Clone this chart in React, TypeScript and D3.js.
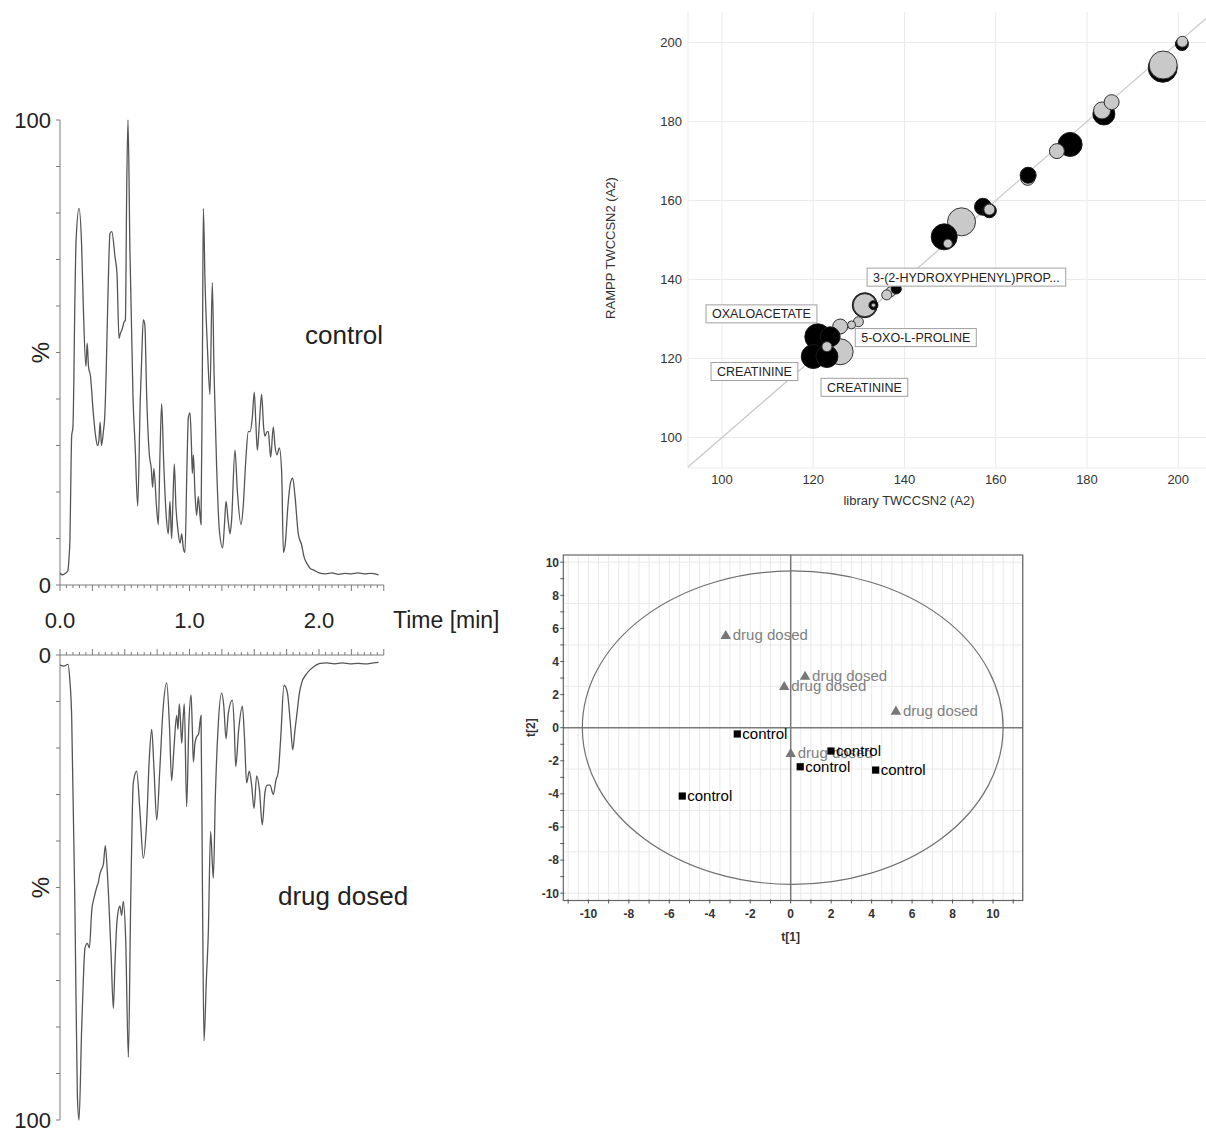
import { useEffect, useRef } from 'react';
import * as d3 from 'd3';

// chromatograms: [time (min), intensity (%)]
const controlTrace = [
  [0, 2.5], [0.02, 2.2], [0.045, 2.6], [0.06, 3], [0.07, 6], [0.077, 10], [0.085, 25], [0.09, 32], [0.1, 34],
  [0.116, 63], [0.124, 74], [0.147, 81], [0.167, 73], [0.18, 60], [0.2, 47], [0.21, 52], [0.22, 47], [0.235, 45],
  [0.257, 37], [0.275, 32], [0.29, 30], [0.3, 31], [0.31, 35], [0.32, 30], [0.335, 33], [0.345, 36], [0.355, 44],
  [0.37, 62], [0.386, 75.6], [0.4, 76], [0.425, 70.5], [0.44, 67], [0.456, 53], [0.465, 54], [0.48, 55], [0.494, 56.5],
  [0.505, 57], [0.515, 85], [0.525, 100], [0.54, 72], [0.564, 40], [0.58, 30], [0.6, 17], [0.62, 40], [0.63, 48],
  [0.643, 57], [0.655, 56], [0.67, 40], [0.69, 28], [0.705, 25], [0.715, 21], [0.725, 25], [0.745, 17], [0.759, 13],
  [0.772, 28], [0.785, 39], [0.8, 27], [0.82, 15], [0.836, 11], [0.849, 18], [0.862, 10], [0.872, 18], [0.883, 26],
  [0.895, 17], [0.91, 12], [0.927, 9], [0.94, 11], [0.952, 8], [0.965, 7], [0.98, 25], [0.991, 36], [1.004, 37],
  [1.015, 30], [1.022, 24], [1.03, 28], [1.042, 20], [1.055, 15], [1.068, 19], [1.078, 16], [1.089, 13], [1.1, 50],
  [1.107, 81], [1.12, 65], [1.14, 50], [1.158, 41], [1.176, 65], [1.19, 45], [1.21, 25], [1.23, 12], [1.256, 8],
  [1.27, 13], [1.282, 18], [1.298, 14], [1.313, 11], [1.325, 14], [1.351, 29], [1.37, 20], [1.398, 13], [1.415, 17],
  [1.435, 27], [1.454, 33], [1.468, 33], [1.485, 36], [1.5, 41.5], [1.512, 35], [1.524, 29], [1.54, 35], [1.557, 41],
  [1.572, 34], [1.583, 32], [1.6, 33], [1.609, 33], [1.618, 30], [1.627, 27.5], [1.647, 34], [1.66, 30], [1.675, 28],
  [1.694, 29.5], [1.712, 24], [1.725, 7], [1.74, 9], [1.76, 17], [1.78, 22], [1.797, 23], [1.815, 19], [1.84, 11],
  [1.866, 8.6], [1.885, 6], [1.91, 4.5], [1.935, 3.5], [1.96, 3.2], [2.0, 2.6], [2.05, 2.4], [2.1, 2.6], [2.15, 2.3],
  [2.2, 2.5], [2.25, 2.4], [2.3, 2.6], [2.35, 2.4], [2.4, 2.5], [2.46, 2.2],
];

const dosedTrace = [
  [0, 2.2], [0.03, 2.4], [0.062, 2], [0.075, 5], [0.09, 13], [0.116, 56], [0.134, 94.6], [0.147, 100], [0.167, 80.6],
  [0.18, 70], [0.193, 63], [0.211, 62], [0.227, 63], [0.245, 55], [0.265, 52], [0.283, 50], [0.295, 49], [0.309, 47],
  [0.322, 46], [0.335, 45], [0.35, 41], [0.368, 48], [0.394, 64], [0.412, 76], [0.425, 66], [0.438, 58], [0.45, 55],
  [0.463, 54], [0.476, 56], [0.489, 53], [0.507, 61], [0.528, 86.5], [0.545, 55], [0.566, 27.5], [0.592, 25],
  [0.618, 34], [0.643, 43.7], [0.669, 36], [0.69, 22], [0.708, 16], [0.725, 24], [0.747, 35.5], [0.77, 25],
  [0.795, 12], [0.824, 6], [0.845, 15], [0.862, 27], [0.88, 20], [0.901, 13], [0.911, 16], [0.921, 10.5], [0.93, 14],
  [0.94, 19], [0.95, 14], [0.96, 10.5], [0.978, 32.6], [0.995, 15], [1.012, 8.6], [1.022, 16], [1.03, 23], [1.042, 19],
  [1.055, 17.6], [1.07, 17], [1.089, 13], [1.1, 50], [1.112, 83], [1.13, 70], [1.145, 60], [1.163, 38], [1.175, 44],
  [1.184, 48], [1.2, 30], [1.22, 16], [1.248, 8.2], [1.265, 11], [1.282, 18], [1.3, 12.5], [1.331, 9.7], [1.345, 15],
  [1.357, 24], [1.38, 16], [1.408, 11], [1.425, 18], [1.441, 27.5], [1.462, 25], [1.48, 28], [1.498, 33], [1.519, 26],
  [1.54, 29], [1.562, 36.5], [1.583, 29.5], [1.6, 28], [1.622, 28], [1.647, 30], [1.667, 27], [1.686, 25], [1.704, 18],
  [1.73, 6.5], [1.755, 8], [1.78, 15], [1.797, 20.4], [1.815, 16], [1.828, 13], [1.85, 8], [1.866, 6], [1.9, 4.2],
  [1.93, 3.2], [1.97, 2.3], [2.008, 1.8], [2.06, 1.7], [2.12, 1.9], [2.18, 1.7], [2.24, 1.9], [2.3, 1.8], [2.36, 1.9],
  [2.42, 1.7], [2.46, 1.6],
];

const timeTickLabels = ['0.0', '1.0', '2.0'];
const traceLabels = ['control', 'drug dosed'];

// CCS comparison bubbles (drawing order)
const bubbleLib = [
  167.0, 167.1, 200.8, 200.9, 196.6, 196.7, 183.7, 183.3, 185.4, 176.3, 173.4, 157.2, 158.6, 158.6, 152.5, 148.7,
  149.5, 137.0, 138.2, 136.1, 131.3, 131.3, 133.2, 133.2, 129.9, 128.4, 125.9, 125.9, 121.0, 120.0, 123.0, 123.7,
  123.0, 125.1,
];
const bubbleRampp = [
  165.6, 166.4, 199.6, 200.2, 193.6, 194.3, 181.9, 182.8, 184.9, 174.2, 172.5, 158.4, 157.4, 157.7, 154.6, 150.8,
  149.1, 136.9, 137.6, 136.1, 133.5, 133.5, 133.5, 133.5, 129.3, 128.5, 121.7, 128.1, 125.5, 120.5, 120.5, 125.5,
  123.0, 126.0,
];
const bubbleSize = [
  49, 64, 42, 30, 210, 196, 121, 72, 56, 144, 56, 72, 49, 30, 196, 169,
  20, 25, 25, 25, 156, 132, 20, 4, 25, 16, 169, 56, 169, 144, 121, 100,
  25, 9,
];
const bubbleGroup = [
  'g', 'b', 'b', 'g', 'b', 'g', 'b', 'g', 'g', 'b', 'g', 'b', 'b', 'g', 'g', 'b',
  'g', 'g', 'b', 'g', 'b', 'g', 'b', 'g', 'g', 'g', 'g', 'g', 'b', 'b', 'b', 'b',
  'g', 'b',
];
const ccsTicks = [100, 120, 140, 160, 180, 200];
const compoundNames = ['3-(2-HYDROXYPHENYL)PROP...', 'OXALOACETATE', '5-OXO-L-PROLINE', 'CREATININE', 'CREATININE'];
const compoundLabelLib = [131.8, 96.5, 129.2, 97.6, 121.7];
const compoundLabelRampp = [140.6, 131.3, 125.3, 116.7, 112.7];

// PCA scores
const scoreT1 = [-3.21, -0.32, 0.71, 5.2, 0.0, -2.64, 0.47, 1.99, 4.2, -5.36];
const scoreT2 = [5.54, 2.46, 3.08, 0.97, -1.59, -0.38, -2.36, -1.41, -2.56, -4.13];
const scoreClass = [
  'drug dosed', 'drug dosed', 'drug dosed', 'drug dosed', 'drug dosed',
  'control', 'control', 'control', 'control', 'control',
];
const scoreTickLabels = [-10, -8, -6, -4, -2, 0, 2, 4, 6, 8, 10];

const FONT = 'Arial, "Liberation Sans", sans-serif';

export default function App() {
  const ref = useRef<SVGSVGElement>(null);

  useEffect(() => {
    const svg = d3.select(ref.current);
    svg.selectAll('*').remove();

    // ---------- chromatograms ----------
    const x = d3.scaleLinear().domain([0, 2.5]).range([60, 383.75]);
    const yTop = d3.scaleLinear().domain([0, 100]).range([585, 120]);
    const yBot = d3.scaleLinear().domain([0, 100]).range([655, 1120]);
    const axisColor = '#7a7a7a';

    const drawPanel = (y: d3.ScaleLinear<number, number>, data: number[][], up: boolean, label: string, labelX: number, labelY: number) => {
      const g = svg.append('g');
      g.append('line').attr('x1', x(0)).attr('x2', x(0)).attr('y1', y(0)).attr('y2', y(100))
        .attr('stroke', axisColor);
      g.selectAll('.yt').data(d3.range(0, 101, 10)).join('line')
        .attr('x1', x(0) - 4).attr('x2', x(0)).attr('y1', d => y(d)).attr('y2', d => y(d))
        .attr('stroke', axisColor);
      g.append('line').attr('x1', x(0)).attr('x2', x(2.5)).attr('y1', y(0)).attr('y2', y(0))
        .attr('stroke', axisColor);
      const dir = up ? -1 : 1;
      g.selectAll('.xt').data(d3.range(0, 51).map(i => i * 0.05)).join('line')
        .attr('x1', d => x(d)).attr('x2', d => x(d))
        .attr('y1', y(0))
        .attr('y2', (d, i) => y(0) + dir * (i % 5 === 0 ? 6 : 3))
        .attr('stroke', axisColor);
      g.selectAll('.yl').data([0, 100]).join('text')
        .attr('x', 51).attr('y', d => y(d)).attr('dy', '0.36em')
        .attr('text-anchor', 'end').attr('font-size', 22).attr('font-family', FONT).attr('fill', '#222')
        .text(d => d);
      g.append('text')
        .attr('transform', `translate(40,${(y(0) + y(100)) / 2}) rotate(-90)`)
        .attr('text-anchor', 'middle').attr('dy', '0.36em')
        .attr('font-size', 24).attr('font-family', FONT).attr('fill', '#222').text('%');
      g.append('path').datum(data)
        .attr('fill', 'none').attr('stroke', '#555').attr('stroke-width', 1.3)
        .attr('d', d3.line<number[]>().x(d => x(d[0])).y(d => y(d[1])).curve(d3.curveMonotoneX));
      g.append('text').attr('x', labelX).attr('y', labelY).attr('dy', '0.36em')
        .attr('font-size', 26).attr('font-family', FONT).attr('fill', '#222').text(label);
    };

    drawPanel(yTop, controlTrace, false, traceLabels[0], 305, 335);
    drawPanel(yBot, dosedTrace, true, traceLabels[1], 278, 896);

    svg.selectAll('.tl').data(timeTickLabels).join('text')
      .attr('x', d => x(+d)).attr('y', 620).attr('dy', '0.36em')
      .attr('text-anchor', 'middle').attr('font-size', 22).attr('font-family', FONT).attr('fill', '#222')
      .text(d => d);
    svg.append('text').attr('x', 393).attr('y', 620).attr('dy', '0.36em')
      .attr('font-size', 23).attr('font-family', FONT).attr('fill', '#222').text('Time [min]');

    // ---------- CCS scatter ----------
    const xs = d3.scaleLinear().domain([100, 200]).range([722, 1178.25]);
    const ys = d3.scaleLinear().domain([100, 200]).range([437.5, 42.5]);
    const left = 688, right = 1206, top = 12, bottom = 468;
    const sc = svg.append('g');
    const grid = '#ebebeb';
    sc.selectAll('.gx').data(ccsTicks).join('line')
      .attr('x1', d => xs(d)).attr('x2', d => xs(d)).attr('y1', top).attr('y2', bottom)
      .attr('stroke', grid);
    sc.selectAll('.gy').data(ccsTicks).join('line')
      .attr('x1', left).attr('x2', right).attr('y1', d => ys(d)).attr('y2', d => ys(d))
      .attr('stroke', grid);
    sc.append('line').attr('x1', left).attr('x2', left).attr('y1', top).attr('y2', bottom).attr('stroke', grid);
    sc.append('line').attr('x1', left).attr('x2', right).attr('y1', bottom).attr('y2', bottom).attr('stroke', grid);
    sc.selectAll('.xl').data(ccsTicks).join('text')
      .attr('x', d => xs(d)).attr('y', 479).attr('dy', '0.36em').attr('text-anchor', 'middle')
      .attr('font-size', 13).attr('font-family', FONT).attr('fill', '#333').text(d => d);
    sc.selectAll('.yl').data(ccsTicks).join('text')
      .attr('x', 682).attr('y', d => ys(d)).attr('dy', '0.36em').attr('text-anchor', 'end')
      .attr('font-size', 13).attr('font-family', FONT).attr('fill', '#333').text(d => d);
    sc.append('text').attr('x', 909).attr('y', 500).attr('dy', '0.36em').attr('text-anchor', 'middle')
      .attr('font-size', 13).attr('font-family', FONT).attr('fill', '#333').text('library TWCCSN2 (A2)');
    sc.append('text').attr('transform', 'translate(610,248) rotate(-90)').attr('dy', '0.36em')
      .attr('text-anchor', 'middle').attr('font-size', 13).attr('font-family', FONT).attr('fill', '#333')
      .text('RAMPP TWCCSN2 (A2)');

    const lo = Math.max(xs.invert(left), ys.invert(bottom));
    const hi = Math.min(xs.invert(right), ys.invert(top));
    sc.append('line').attr('x1', xs(lo)).attr('y1', ys(lo)).attr('x2', xs(hi)).attr('y2', ys(hi))
      .attr('stroke', '#c8c8c8').attr('stroke-width', 1.2);

    const r = d3.scaleSqrt().domain([0, 225]).range([0, 15]);
    sc.selectAll('.bub').data(d3.range(bubbleLib.length)).join('circle')
      .attr('cx', i => xs(bubbleLib[i])).attr('cy', i => ys(bubbleRampp[i])).attr('r', i => r(bubbleSize[i]))
      .attr('fill', i => (bubbleGroup[i] === 'b' ? '#000' : '#c9c9c9'))
      .attr('stroke', i => (bubbleGroup[i] === 'b' ? '#1a1a1a' : '#333'))
      .attr('stroke-width', 1);

    compoundNames.forEach((name, i) => {
      const g = sc.append('g').attr('transform', `translate(${xs(compoundLabelLib[i])},${ys(compoundLabelRampp[i])})`);
      const rect = g.append('rect').attr('fill', '#fff').attr('stroke', '#a0a0a0').attr('stroke-width', 1);
      const t = g.append('text').attr('x', 6).attr('y', 0).attr('dy', '0.36em')
        .attr('font-size', 12.5).attr('font-family', FONT).attr('fill', '#222').text(name);
      const w = (t.node() as SVGTextElement).getComputedTextLength();
      rect.attr('x', 0).attr('y', -9).attr('width', w + 12).attr('height', 18);
    });

    // ---------- PCA scores ----------
    const xp = d3.scaleLinear().domain([0, 10]).range([790.7, 993]);
    const yp = d3.scaleLinear().domain([0, 10]).range([727.7, 562.2]);
    const pl = 563.3, pr = 1022.7, pt = 555, pb = 900.5;
    const pg = svg.append('g');
    const pgrid = '#e9e9e9';
    pg.selectAll('.vx').data(d3.range(-11, 11.51, 0.5)).join('line')
      .attr('x1', d => xp(d)).attr('x2', d => xp(d)).attr('y1', pt).attr('y2', pb).attr('stroke', pgrid);
    pg.selectAll('.hy').data(d3.range(-10, 10.01, 2.5)).join('line')
      .attr('x1', pl).attr('x2', pr).attr('y1', d => yp(d)).attr('y2', d => yp(d)).attr('stroke', pgrid);
    pg.append('line').attr('x1', xp(0)).attr('x2', xp(0)).attr('y1', pt).attr('y2', pb)
      .attr('stroke', '#7a7a7a').attr('stroke-width', 1.5);
    pg.append('line').attr('x1', pl).attr('x2', pr).attr('y1', yp(0)).attr('y2', yp(0))
      .attr('stroke', '#7a7a7a').attr('stroke-width', 1.5);
    pg.append('ellipse').attr('cx', xp(0.1)).attr('cy', yp(0))
      .attr('rx', xp(10.4) - xp(0)).attr('ry', yp(0) - yp(9.47))
      .attr('fill', 'none').attr('stroke', '#707070').attr('stroke-width', 1.2);
    pg.append('rect').attr('x', pl).attr('y', pt).attr('width', pr - pl).attr('height', pb - pt)
      .attr('fill', 'none').attr('stroke', '#666').attr('stroke-width', 1.2);
    pg.selectAll('.lt').data(d3.range(-10, 10.01, 1)).join('line')
      .attr('x1', pl - 3).attr('x2', pl + 1).attr('y1', d => yp(d)).attr('y2', d => yp(d)).attr('stroke', '#555');
    pg.selectAll('.bt').data(d3.range(-11, 11.01, 1)).join('line')
      .attr('x1', d => xp(d)).attr('x2', d => xp(d)).attr('y1', pb - 1).attr('y2', pb + 3).attr('stroke', '#555');
    pg.selectAll('.ll').data(scoreTickLabels).join('text')
      .attr('x', 559).attr('y', d => yp(d)).attr('dy', '0.36em').attr('text-anchor', 'end')
      .attr('font-size', 12).attr('font-weight', 'bold').attr('font-family', FONT).attr('fill', '#333').text(d => d);
    pg.selectAll('.bl').data(scoreTickLabels).join('text')
      .attr('x', d => xp(d)).attr('y', 914).attr('dy', '0.36em').attr('text-anchor', 'middle')
      .attr('font-size', 12).attr('font-weight', 'bold').attr('font-family', FONT).attr('fill', '#333').text(d => d);
    pg.append('text').attr('x', xp(0)).attr('y', 937).attr('dy', '0.36em').attr('text-anchor', 'middle')
      .attr('font-size', 12).attr('font-weight', 'bold').attr('font-family', FONT).attr('fill', '#333').text('t[1]');
    pg.append('text').attr('transform', `translate(531,${yp(0)}) rotate(-90)`).attr('dy', '0.36em')
      .attr('text-anchor', 'middle').attr('font-size', 12).attr('font-weight', 'bold').attr('font-family', FONT)
      .attr('fill', '#333').text('t[2]');

    const tri = d3.symbol(d3.symbolTriangle, 48)();
    const sq = d3.symbol(d3.symbolSquare, 52)();
    d3.range(scoreT1.length).forEach(i => {
      const dosed = scoreClass[i] === 'drug dosed';
      const g = pg.append('g').attr('transform', `translate(${xp(scoreT1[i])},${yp(scoreT2[i])})`);
      g.append('path').attr('d', dosed ? tri : sq).attr('fill', dosed ? '#777' : '#000');
      g.append('text').attr('x', dosed ? 7 : 5).attr('y', dosed ? -1 : 0).attr('dy', '0.36em')
        .attr('font-size', 15).attr('font-family', FONT).attr('fill', dosed ? '#808080' : '#000')
        .text(scoreClass[i]);
    });
  }, []);

  return (
    <div style={{ position: 'absolute', left: 0, top: 0, width: 1206, height: 1131, background: '#fff' }}>
      <svg ref={ref} width={1206} height={1131} style={{ display: 'block' }} />
    </div>
  );
}
